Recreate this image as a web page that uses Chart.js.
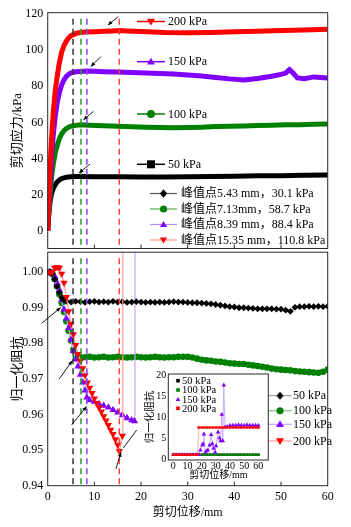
<!DOCTYPE html>
<html><head><meta charset="utf-8">
<script src="https://cdn.jsdelivr.net/npm/chart.js@4.4.1/dist/chart.umd.min.js"></script>
<style>
html,body{margin:0;padding:0;background:#fff;width:351px;height:527px;overflow:hidden}
canvas{position:absolute}
#c1{left:0;top:0}
#c2{left:0;top:248px}
#c3{left:140px;top:368px}
</style></head><body>
<canvas id="c1" width="351" height="250"></canvas>
<canvas id="c2" width="351" height="279"></canvas>
<canvas id="c3" width="135" height="115"></canvas>
<script>
const FONT = "'Liberation Serif','Noto Sans CJK SC',serif";

// ---------- data ----------
const seriesNames = ['50 kPa','100 kPa','150 kPa','200 kPa'];
const xTicks = [0,10,20,30,40,50,60];
const stressTicks = [0,20,40,60,80,100,120];
const resTicks = [0.94,0.95,0.96,0.97,0.98,0.99,1.00];
const insetXTicks = [0,10,20,30,40,50,60];
const insetYTicks = [0,5,10,15,20];

const peakX = [5.43, 7.13, 8.39, 15.35];
const peakY = [30.1, 58.7, 88.4, 110.8];
const peakLabels = ['峰值点5.43 mm，30.1 kPa','峰值点7.13mm，58.7 kPa','峰值点8.39 mm，88.4 kPa','峰值点15.35 mm，110.8 kPa'];

// shear stress (kPa) vs displacement (mm)
const s50x = [0,0.2,0.5,0.8,1.2,1.6,2,2.5,3,3.5,4,4.5,5.43,7,10,15,20,25,30,35,40,45,50,55,60];
const s50y = [0,8,16,20.5,23.5,25.5,27,28.2,29,29.4,29.7,29.9,30.1,30.1,30,30,29.9,29.9,30,30.1,30.3,30.5,30.6,30.8,31];
const s100x = [0,0.2,0.5,0.8,1.2,1.6,2,2.5,3,3.5,4,4.5,5,6,7.13,9,12,15,18,21,24,27,30,33,36,39,42,45,48,51,54,57,60];
const s100y = [0,9,20,29,37,43,47,51,53.8,55.5,56.7,57.4,57.9,58.4,58.7,58.5,58.2,57.9,57.6,57.4,57.2,57.1,57.2,57.4,57.7,57.9,58.1,58.3,58.5,58.7,58.8,59,59.2];
const s150x = [0,0.2,0.5,0.8,1.2,1.6,2,2.5,3,3.5,4,4.5,5,6,7,8.39,10,12,15,18,21,24,27,30,33,36,39,42,45,48,50,51,51.8,52.5,53.5,55,57,60];
const s150y = [0,12,27,40,53,63,70.5,76.5,80.8,83.6,85.5,86.7,87.4,88,88.2,88.4,88.3,88.1,87.9,87.6,87.4,87.1,86.8,86.3,85.7,84.9,84.1,83.5,84.3,85.6,86.6,87.3,89.2,87.6,84.6,84.2,85.2,84.6];
const s200x = [0,0.2,0.5,0.8,1.2,1.6,2,2.5,3,3.5,4,4.5,5,6,7,8,10,12,14,15.35,17,20,25,30,35,40,45,50,55,60];
const s200y = [0,14,35,50,66,77,85,93,99,102.5,105,106.8,108,109.2,109.8,110,110.2,110.4,110.6,110.8,110.6,110.3,109.8,109.6,109.8,110.1,110.5,110.9,111.2,111.6];

// normalized resistance vs displacement
const r50x = [0,0.5,1,1.5,2,2.5,3,3.5,4,5,6,7,8,9,10,11,12,13,14,15,16,17,18,19,20,21,22,23,24,25,26,27,28,29,30,31,32,33,34,35,36,37,38,39,40,41,42,43,44,45,46,47,48,49,50,51,52,53,54,55,56,57,58,59,60];
const r50y = [1.0,1.0,0.9995,0.998,0.996,0.9943,0.9928,0.9921,0.9918,
  0.9916,0.9918,0.9917,0.9915,0.9917,0.9918,0.9916,0.9917,0.9916,0.9918,
  0.9916,0.9917,0.9915,0.9916,0.9917,0.9916,0.9915,0.9916,0.9915,0.9916,
  0.9915,0.9916,0.9917,0.9916,0.9916,0.9915,0.9914,0.9914,0.9913,0.9912,
  0.9911,0.9909,0.9907,0.9905,0.9903,0.9902,0.9900,0.9900,0.9899,0.9898,
  0.9897,0.9897,0.9897,0.9897,0.9896,0.9896,0.9893,0.9890,0.9901,0.9903,
  0.9903,0.9904,0.9903,0.9904,0.9903,0.9904];
const r100x = [0,0.5,1,1.5,2,2.5,3,3.5,4,4.5,5,5.5,6,6.5,7.13,8,9,10,11,12,13,14,15,16,17,18,19,20,21,22,23,24,25,26,27,28,29,30,31,32,33,34,35,36,37,38,39,40,41,42,43,44,45,46,47,48,49,50,51,52,53,54,55,56,57,58,59,60];
const r100y = [1.0,1.0,0.9995,0.998,0.996,0.9938,0.9913,0.9888,0.9862,0.9835,0.9808,0.9782,0.9766,0.9761,0.976,
  0.9761,0.9762,0.9760,0.9761,0.9762,0.9760,0.9761,0.9762,0.9761,0.9760,
  0.9761,0.9762,0.9761,0.9760,0.9761,0.9762,0.9761,0.9760,0.9761,0.9761,
  0.9762,0.9762,0.9762,0.9760,0.9757,0.9754,0.9752,0.9751,0.9749,0.9748,
  0.9746,0.9744,0.9743,0.9742,0.9742,0.9740,0.9738,0.9736,0.9734,0.9732,
  0.9729,0.9727,0.9726,0.9725,0.9724,0.9722,0.9721,0.9720,0.9719,0.9718,
  0.9717,0.9720,0.9726];
const r150x = [0,0.5,1,1.5,2,2.5,3,3.5,4,4.5,5,5.5,6,6.5,7,7.5,8,8.39,9,10,11,12,13,14,15,16,17,18,18.6,18.7];
const r150y = [1.0,1.0,0.9997,0.9988,0.997,0.995,0.9922,0.9895,0.987,0.9843,0.981,0.9778,0.9755,0.9735,0.9712,0.969,0.9668,0.9648,0.964,0.9636,0.963,0.9625,0.962,0.9613,0.9606,0.9598,0.959,0.9584,0.9581,2.1];
const r200x = [0,0.5,1,1.5,2,2.5,3,3.5,4,4.5,5,5.5,6,6.5,7,7.5,8,8.5,9,9.5,10,10.5,11,11.5,12,12.5,13,13.5,14,14.5,15,15.35,16,16.1];
const r200y = [1.0,1.0,1.0,1.0012,1.0014,1.0012,0.9995,0.997,0.993,0.989,0.9855,0.9825,0.9795,0.977,0.975,0.973,0.971,0.969,0.9675,0.966,0.9645,0.9632,0.962,0.9608,0.9595,0.9583,0.957,0.9557,0.9545,0.953,0.9515,0.9497,0.954,7.5];

// inset: full-range normalized resistance
const i50x = [0,2,4,6,8,10,12,14,16,18,20,22,24,26,28,30,32,34,36,38,40,42,44,46,48,50,52,54,56,58,60];
const i50y = [1,1,1,1,1,1,1,1,1,1,1,1,1,1,1,1,1,1,1,1,1,1,1,1,1,1,1,1,1,1,1];
const i100x = [0,2,4,6,8,10,12,14,16,18,20,22,24,26,28,30,32,34,36,38,40,42,44,46,48,50,52,54,56,58,60];
const i100y = [1,1,1,1,1,1,1,1,1,1,1,1,1,1,1,1,1,1,1,1,1,1,1,1,1,1,1,1,1,1,1];
const i150x = [0,2,4,6,8,10,12,14,16,18,19.1,20.5,21,21.6,22.6,23.5,24.4,25.6,26.7,27.5,28.4,29.5,30.2,31.6,32.6,33.3,34.2,34.9,35.6,36.5,38,40,42,44,46,48,50,52,54,56,58,60];
const i150y = [1,1,1,1,1,1,1,1,1,1,2.1,3.3,3.6,5.9,1.6,1.9,2.1,3.3,5.8,3.6,2.5,1.6,3.1,6.4,5.0,4.3,10.6,4.3,17.6,7.6,7.7,8.0,8.0,8.0,8.1,8.0,8.0,8.1,8.0,8.0,8.0,8.0];
const i200x = [0,2,4,6,8,10,12,14,16,17,18,20,22,24,26,28,30,32,34,36,38,40,42,44,46,48,50,52,54,56,58,60];
const i200y = [1,1,1,1,1,1,1,1,1,1,7.5,7.5,7.5,7.5,7.5,7.5,7.5,7.5,7.5,7.5,7.5,7.5,7.5,7.5,7.5,7.5,7.5,7.5,7.5,7.5,7.5,7.5];

// ---------- styles ----------
const strong = ['#000000','#008000','#8000ff','#ff0000'];
const light = ['#9a9a9a','#7cc47c','#c4a4ff','#ff9c9c'];
const dashColors = ['#333333','#2a9a2a','#8a40ff','#ff3c3c'];
const markers = ['rectRot','circle','triangle','triangleDown'];

function pts(xs, ys){ return xs.map((x,i)=>({x:x, y:ys[i]})); }
function fixW(w){ return s=>{ s.width = w; s.paddingTop = 0; s.paddingBottom = 0; s.paddingLeft = 0; s.paddingRight = 0; }; }
function fixH(h){ return s=>{ s.height = h; s.paddingTop = 0; s.paddingBottom = 0; s.paddingLeft = 0; s.paddingRight = 0; }; }
const noGrid = { display:false, drawTicks:false, tickLength:0 };

function drawMarker(ctx, style, x, y, r, fill){
  ctx.save(); ctx.fillStyle = fill; ctx.beginPath();
  if (style==='circle') ctx.arc(x,y,r,0,Math.PI*2);
  else if (style==='rect') ctx.rect(x-r,y-r,2*r,2*r);
  else if (style==='rectRot'){ ctx.moveTo(x,y-r*1.15); ctx.lineTo(x+r,y); ctx.lineTo(x,y+r*1.15); ctx.lineTo(x-r,y); ctx.closePath(); }
  else if (style==='triangle'){ ctx.moveTo(x,y-r); ctx.lineTo(x+r,y+r*0.7); ctx.lineTo(x-r,y+r*0.7); ctx.closePath(); }
  else if (style==='triangleDown'){ ctx.moveTo(x,y+r); ctx.lineTo(x+r,y-r*0.7); ctx.lineTo(x-r,y-r*0.7); ctx.closePath(); }
  ctx.fill(); ctx.restore();
}
function drawLegendEntry(ctx, e){
  ctx.save();
  ctx.strokeStyle = e.lc; ctx.lineWidth = e.lw || 1.2;
  ctx.beginPath(); ctx.moveTo(e.x1, e.y); ctx.lineTo(e.x2, e.y); ctx.stroke();
  drawMarker(ctx, e.ms, (e.x1+e.x2)/2, e.y, e.mr, e.mc);
  ctx.fillStyle = '#000'; ctx.font = e.font; ctx.textBaseline = 'middle'; ctx.textAlign = 'left';
  ctx.fillText(e.text, e.tx, e.y + 0.5);
  ctx.restore();
}
function arrow(ctx, x1, y1, x2, y2, head){
  ctx.save(); ctx.strokeStyle = '#000'; ctx.fillStyle = '#000'; ctx.lineWidth = 0.9;
  ctx.beginPath(); ctx.moveTo(x1,y1); ctx.lineTo(x2,y2); ctx.stroke();
  if (head){
    const a = Math.atan2(y2-y1, x2-x1), L = 4.5, w = 1.9;
    ctx.beginPath(); ctx.moveTo(x2,y2);
    ctx.lineTo(x2 - L*Math.cos(a) + w*Math.sin(a), y2 - L*Math.sin(a) - w*Math.cos(a));
    ctx.lineTo(x2 - L*Math.cos(a) - w*Math.sin(a), y2 - L*Math.sin(a) + w*Math.cos(a));
    ctx.closePath(); ctx.fill();
  }
  ctx.restore();
}
function framePlugin(xt, yt, tl){
  return { id:'frame', afterDatasetsDraw(chart){
    const {ctx, chartArea:a, scales} = chart;
    ctx.save(); ctx.strokeStyle = '#2a2a2a'; ctx.lineWidth = 1;
    ctx.strokeRect(a.left, a.top, a.right-a.left, a.bottom-a.top);
    ctx.beginPath();
    xt.forEach(v=>{ const x = scales.x.getPixelForValue(v); ctx.moveTo(x, a.bottom); ctx.lineTo(x, a.bottom - tl); });
    yt.forEach(v=>{ const y = scales.y.getPixelForValue(v); ctx.moveTo(a.left, y); ctx.lineTo(a.left + tl, y); });
    ctx.stroke(); ctx.restore();
  }};
}
const dashPlugin = { id:'dashes', afterDatasetsDraw(chart){
  const {ctx, chartArea:a, scales} = chart;
  ctx.save(); ctx.lineWidth = 1.5; ctx.setLineDash([6,4]);
  peakX.forEach((v,i)=>{
    const x = scales.x.getPixelForValue(v);
    ctx.strokeStyle = dashColors[i]; ctx.beginPath(); ctx.moveTo(x, a.top + 6); ctx.lineTo(x, a.bottom); ctx.stroke();
  });
  ctx.restore();
}};
const baseOpts = { animation:false, responsive:false, devicePixelRatio:1, events:[],
  plugins:{ legend:{display:false}, tooltip:{enabled:false} } };

// ---------- top chart: shear stress ----------
const stressSets = [[s50x,s50y],[s100x,s100y],[s150x,s150y],[s200x,s200y]];
const topOffsets = [[6,-3.5,11,-9],[2.5,-5,10,-8.5],[4,-4.5,10,-10],[-11.5,-5.5,10.5,-8.5]];
const topLegendY = [164.3,114,61.7,21.5];
const topLegendMarkers = ['rect','circle','triangle','triangleDown'];
const peakLegendY = [193.5,209,224.5,240];
const peakLineColors = ['#555555','#55b055','#b490ff','#ff8c8c'];

new Chart(document.getElementById('c1'), {
  type:'line',
  data:{ datasets: stressSets.map((s,i)=>({
    label: seriesNames[i], data: pts(s[0], s[1]), borderColor: strong[i], borderWidth: 5,
    pointRadius: 0, tension: 0, order: 3-i })) },
  options: Object.assign({}, baseOpts, {
    layout:{ padding:{ left:0, right:23.3, top:12.7, bottom:1.5 } },
    scales:{
      x:{ type:'linear', min:0, max:60, display:false },
      y:{ type:'linear', min:-9.7, max:120.7,
        afterBuildTicks: s=>{ s.ticks = stressTicks.map(v=>({value:v})); },
        afterFit: fixW(47.7),
        grid: noGrid, border:{display:false},
        ticks:{ padding:4.5, color:'#000', font:{family:FONT, size:12} },
        title:{ display:true, text:'剪切应力/kPa', color:'#000', font:{family:FONT, size:13}, padding:{top:10,bottom:0} } }
    }
  }),
  plugins:[ dashPlugin, framePlugin(xTicks.slice(1,-1), [], 4), { id:'topdeco', afterDraw(chart){
    const ctx = chart.ctx, xs = chart.scales.x, ys = chart.scales.y;
    peakX.forEach((v,i)=>{
      const px = xs.getPixelForValue(v), py = ys.getPixelForValue(peakY[i]);
      const o = topOffsets[i]; const hx = px + o[0], hy = py + o[1];
      arrow(ctx, hx + o[2], hy + o[3], hx, hy, true);
    });
    seriesNames.forEach((n,i)=>{
      drawLegendEntry(ctx, {x1:137, x2:165, y:topLegendY[i], lc:strong[i], lw:1.5, ms:topLegendMarkers[i], mr:4, mc:strong[i], tx:168, text:n, font:'12px '+FONT});
    });
    peakLabels.forEach((t,i)=>{
      drawLegendEntry(ctx, {x1:150, x2:177, y:peakLegendY[i], lc:peakLineColors[i], lw:1.2, ms:markers[i], mr:3.6, mc:strong[i], tx:181, text:t, font:'12px '+FONT});
    });
  }} ]
});

// ---------- bottom chart: normalized resistance ----------
const resSets = [[r50x,r50y],[r100x,r100y],[r150x,r150y],[r200x,r200y]];
const resOrder = [1,3,2,0];
const resRadius = [3.4,3.3,4.2,4.2];
const botArrows = [[2.79,0.99006,-19,15.7,true],[5.27,0.97516,-13,18.4,true],[8.36,0.96227,-15,18.3,true],[15.7,0.94938,-5,16.6,true]];
const botLegendY = [147.7,162.7,176.3,193];

new Chart(document.getElementById('c2'), {
  type:'line',
  data:{ datasets: resSets.map((s,i)=>({
    label: seriesNames[i], data: pts(s[0], s[1]), borderColor: light[i], borderWidth: 1.2,
    pointStyle: i===3 ? 'triangle' : markers[i], pointRotation: i===3 ? 180 : 0,
    pointRadius: resRadius[i], pointBackgroundColor: strong[i], pointBorderColor: strong[i], pointBorderWidth: 0,
    tension: 0, order: resOrder[i] })) },
  options: Object.assign({}, baseOpts, {
    layout:{ padding:{ left:0, right:23.3, top:0.5, bottom:0 } },
    scales:{
      x:{ type:'linear', min:0, max:60,
        afterBuildTicks: s=>{ s.ticks = xTicks.map(v=>({value:v})); },
        afterFit: fixH(41.3),
        grid: noGrid, border:{display:false},
        ticks:{ padding:4, color:'#000', maxRotation:0, font:{family:FONT, size:12} },
        title:{ display:true, text:'剪切位移/mm', color:'#000', font:{family:FONT, size:12}, padding:{top:0,bottom:7} } },
      y:{ type:'linear', min:0.94, max:1.0056,
        afterBuildTicks: s=>{ s.ticks = resTicks.map(v=>({value:v})); },
        afterFit: fixW(47.7),
        grid: noGrid, border:{display:false},
        ticks:{ padding:4.5, color:'#000', font:{family:FONT, size:12}, callback: v=>Number(v).toFixed(2) },
        title:{ display:true, text:'归一化阻抗', color:'#000', font:{family:FONT, size:13}, padding:{top:10,bottom:0} } }
    }
  }),
  plugins:[ dashPlugin, framePlugin(xTicks.slice(1,-1), [], 4), { id:'botdeco', afterDraw(chart){
    const ctx = chart.ctx, xs = chart.scales.x, ys = chart.scales.y;
    botArrows.forEach(a=>{
      const hx = xs.getPixelForValue(a[0]), hy = ys.getPixelForValue(a[1]);
      arrow(ctx, hx + a[2], hy + a[3], hx, hy, a[4]);
    });
    const mx = xs.getPixelForValue(peakX[3]) + 4, my = ys.getPixelForValue(0.9506);
    arrow(ctx, mx, my, mx + 13.4, my - 18, false);
    seriesNames.forEach((n,i)=>{
      drawLegendEntry(ctx, {x1:268.3, x2:291.7, y:botLegendY[i], lc:light[i], lw:1.2, ms:markers[i], mr:i>=2?4:3.5, mc:strong[i], tx:293, text:n, font:'12px '+FONT});
    });
  }} ]
});

// ---------- inset ----------
const insetSets = [[i50x,i50y],[i100x,i100y],[i150x,i150y],[i200x,i200y]];
const insetMarkers = ['rect','rect','triangle','rect'];
const insetRadius = [1.8,1.8,2.6,1.9];
const insetLegendY = [12.7,22,31.3,40.3];

new Chart(document.getElementById('c3'), {
  type:'line',
  data:{ datasets: insetSets.map((s,i)=>({
    label: seriesNames[i], data: pts(s[0], s[1]), borderColor: light[i], borderWidth: 0.9,
    pointStyle: insetMarkers[i], pointRadius: insetRadius[i], pointBackgroundColor: strong[i],
    pointBorderColor: strong[i], pointBorderWidth: 0, tension: 0, order: 3-i })) },
  options: Object.assign({}, baseOpts, {
    layout:{ padding:{ left:0, right:6.7, top:6, bottom:0 } },
    scales:{
      x:{ type:'linear', min:-3.5, max:67,
        afterBuildTicks: s=>{ s.ticks = insetXTicks.map(v=>({value:v})); },
        afterFit: fixH(23),
        grid: noGrid, border:{display:false},
        ticks:{ padding:0, color:'#000', maxRotation:0, autoSkip:false, font:{family:FONT, size:10} },
        title:{ display:true, text:'剪切位移/mm', color:'#000', font:{family:FONT, size:10}, padding:{top:0,bottom:2} } },
      y:{ type:'linear', min:-0.25, max:20.25,
        afterBuildTicks: s=>{ s.ticks = insetYTicks.map(v=>({value:v})); },
        afterFit: fixW(28.3),
        grid: noGrid, border:{display:false},
        ticks:{ padding:2, color:'#000', font:{family:FONT, size:10} },
        title:{ display:true, text:'归一化阻抗', color:'#000', font:{family:FONT, size:10.5}, padding:{top:3.5,bottom:0} } }
    }
  }),
  plugins:[ { id:'insetbg', beforeDatasetsDraw(chart){
      const {ctx, chartArea:a} = chart; ctx.save(); ctx.fillStyle = '#fff';
      ctx.fillRect(a.left, a.top, a.right-a.left, a.bottom-a.top); ctx.restore(); } },
    framePlugin([], [], 0),
    { id:'insetlegend', afterDraw(chart){
      const ctx = chart.ctx;
      seriesNames.forEach((n,i)=>{
        drawMarker(ctx, insetMarkers[i], 38, insetLegendY[i], i===2?2.4:1.8, strong[i]);
        ctx.save(); ctx.fillStyle = '#000'; ctx.font = '10.5px '+FONT; ctx.textBaseline = 'middle';
        ctx.fillText(n, 42, insetLegendY[i] + 0.5); ctx.restore();
      });
    }} ]
});
</script>
</body></html>
